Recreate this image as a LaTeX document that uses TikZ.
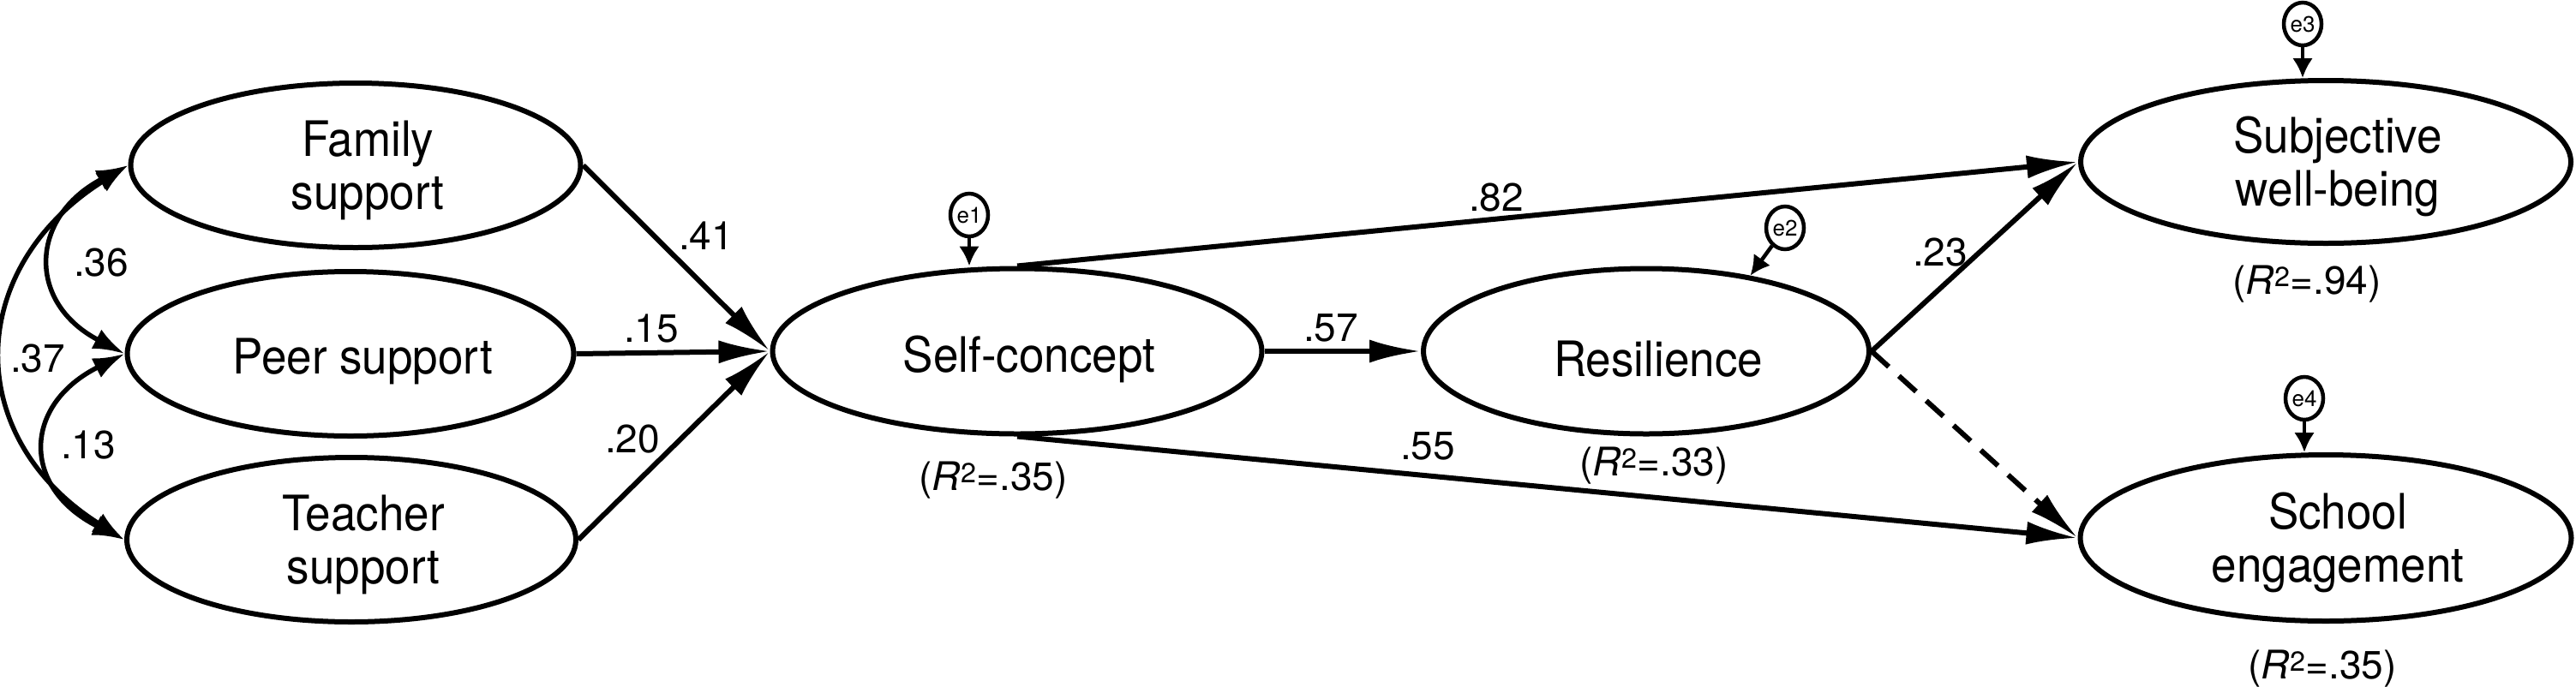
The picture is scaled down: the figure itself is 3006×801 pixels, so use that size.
\documentclass[tikz,border=0pt]{standalone}
\usepackage{fontspec}
\setmainfont{TeX Gyre Heros}
\newfontfamily\nodefont[FakeStretch=0.93]{TeX Gyre Heros}
\usetikzlibrary{shapes.geometric,arrows.meta}
\newcommand\oneline[1]{\hspace*{28pt}\raisebox{-9pt}[\height][\depth]{#1}}
\newcommand\twoline[2]{\hspace*{28pt}\raisebox{-8pt}[\height][\depth]{\begin{tabular}{@{}c@{}}#1\\#2\end{tabular}}}
\newcommand\rsq[1]{(\textit{R}\textsuperscript{2}=#1)}
\begin{document}
\begin{tikzpicture}[x=1pt,y=-1pt,
  ell/.style={ellipse,draw,line width=6pt,inner sep=0pt,font=\nodefont\fontsize{57}{62}\selectfont},
  err/.style={ellipse,draw,line width=4.5pt,inner sep=0pt,minimum width=44pt,minimum height=50pt,font=\fontsize{26}{30}\selectfont},
  lab/.style={font=\fontsize{46}{54}\selectfont,inner sep=0pt},
  arr/.style={line width=6pt,-{Latex[length=60pt,width=27pt]}},
  cov/.style={line width=5.5pt,{Latex[length=37pt,width=25pt]}-{Latex[length=37pt,width=25pt]}},
  earr/.style={line width=4.5pt,-{Latex[length=23pt,width=24pt]}},
]
\useasboundingbox (0,0) rectangle (3006,801);
% latent variables
\node[ell,minimum width=525pt,minimum height=192pt] (fam) at (415,193) {\twoline{Family}{support}};
\node[ell,minimum width=521pt,minimum height=192pt] (peer) at (409,413) {\oneline{Peer support}};
\node[ell,minimum width=524pt,minimum height=192pt] (teach) at (410,630) {\twoline{Teacher}{support}};
\node[ell,minimum width=571pt,minimum height=193pt] (self) at (1187,410) {\oneline{Self-concept}};
\node[ell,minimum width=520pt,minimum height=193pt] (resil) at (1921,410) {\oneline{Resilience}};
\node[ell,minimum width=572pt,minimum height=190pt] (swb) at (2714,189) {\twoline{Subjective}{well-being}};
\node[ell,minimum width=573pt,minimum height=194pt] (school) at (2714,628) {\twoline{School}{engagement}};
% error terms
\node[err] (e1) at (1131,251) {e1};
\node[err] (e2) at (2083,266) {e2};
\node[err] (e3) at (2687,28) {e3};
\node[err] (e4) at (2689,465) {e4};
% paths
\draw[arr] (fam.east) -- (self.west);
\draw[arr] (peer.east) -- (self.west);
\draw[arr] (teach.east) -- (self.west);
\draw[arr] (self.east) -- (resil.west);
\draw[arr] (self.north) -- (swb.west);
\draw[arr] (self.south) -- (school.west);
\draw[arr] (resil.east) -- (swb.west);
\draw[arr,dash pattern=on 27pt off 16pt] (resil.east) -- (school.west);
% covariances
\draw[cov] (fam.west) .. controls +(-115,60) and +(-115,-60) .. (peer.west);
\draw[cov] (peer.west) .. controls +(-120,60) and +(-120,-60) .. (teach.west);
\draw[cov] (fam.west) .. controls +(-190,120) and +(-190,-120) .. (teach.west);
% error arrows
\draw[earr] (e1) -- (e1 |- self.north);
\draw[earr] (e2) -- (resil.36);
\draw[earr] (e3) -- (e3 |- swb.north);
\draw[earr] (e4) -- (e4 |- school.north);
% labels
\node[lab] (l41) at (824,275) {.41};
\node[lab] (l15) at (760,384) {.15};
\node[lab] (l20) at (738,513) {.20};
\node[lab] (l36) at (118,307) {.36};
\node[lab] (l13) at (103,520) {.13};
\node[lab] (l37) at (44,419) {.37};
\node[lab] (l82) at (1746,231) {.82};
\node[lab] (l57) at (1553,383) {.57};
\node[lab] (l55) at (1666,521) {.55};
\node[lab] (l23) at (2264,295) {.23};
\node[lab] (r1) at (1159,561) {\rsq{.35}};
\node[lab] (r2) at (1930,544) {\rsq{.33}};
\node[lab] (r3) at (2692,332) {\rsq{.94}};
\node[lab] (r4) at (2710,781) {\rsq{.35}};
\end{tikzpicture}
\end{document}
